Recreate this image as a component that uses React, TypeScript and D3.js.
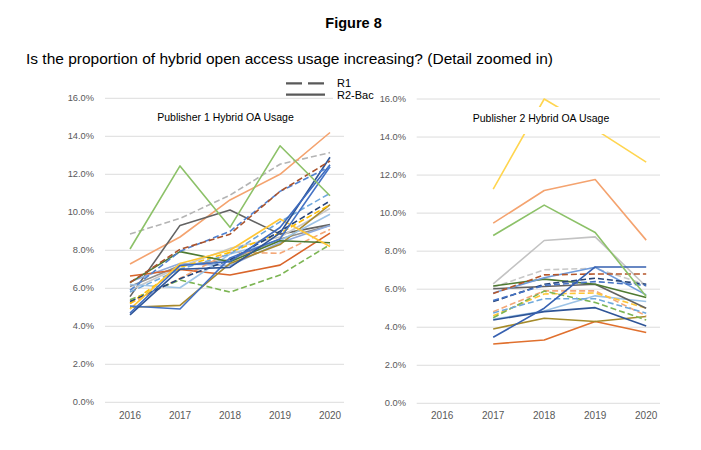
import React from "react";
import * as d3 from "d3";

// ---------- data ----------
const years = ["2016", "2017", "2018", "2019", "2020"];
const yTicks = [0, 2, 4, 6, 8, 10, 12, 14, 16];

// Publisher 1 (values in %)
const p1GreenLight = [8.07, 12.44, 9.21, 13.5, 10.87];
const p1GrayDash = [8.86, 9.68, 10.9, 12.53, 13.14];
const p1OrangeLight = [7.28, 8.7, 10.65, 12.0, 14.2];
const p1DarkGray = [5.56, 9.31, 10.12, 8.85, 9.35];
const p1BrownDash = [6.3, 8.05, 8.85, 11.1, 12.7];
const p1BlueDash = [5.9, 7.95, 9.0, 11.1, 12.4];
const p1DarkGreen = [6.3, 7.93, 7.4, 8.5, 8.4];
const p1Gold = [4.9, 7.3, 8.0, 9.65, 8.2];
const p1Orange = [6.65, 6.99, 6.7, 7.22, 8.9];
const p1GreenDash = [5.4, 6.44, 5.8, 6.7, 8.3];
const p1OrangeDash = [5.2, 6.52, 7.9, 7.84, 9.1];
const p1DarkGold = [5.0, 5.1, 7.31, 8.3, 10.4];
const p1LightBlue = [6.2, 6.03, 7.8, 8.5, 9.9];
const p1Blue = [5.07, 4.91, 7.6, 8.6, 12.4];
const p1DarkBlue = [4.6, 7.0, 7.1, 8.9, 12.9];
const p1Blue2 = [4.7, 7.2, 7.4, 9.2, 12.5];
const p1DarkBlueDash = [5.3, 6.5, 7.5, 9.0, 10.6];
const p1LightBlueDash = [5.8, 7.0, 7.8, 9.5, 11.0];
const p1LightGray = [5.9, 7.13, 8.1, 8.7, 10.2];
const p1GoldDash = [5.2, 7.1, 7.9, 8.9, 10.4];
const p1Gray = [6.1, 7.2, 7.5, 8.6, 9.3];
const p1LightBlue2 = [6.35, 7.3, 7.2, 8.4, 9.3];

const p1Series = [
  p1GrayDash, p1OrangeLight, p1DarkGray, p1LightGray, p1Gray, p1LightBlue2,
  p1OrangeDash, p1GreenDash, p1Orange, p1DarkGold, p1LightBlue, p1GoldDash,
  p1DarkBlueDash, p1LightBlueDash, p1DarkGreen, p1Gold, p1Blue, p1DarkBlue,
  p1Blue2, p1BlueDash, p1BrownDash, p1GreenLight,
];
const p1Colors = [
  "#B4B4B4", "#F4A36F", "#636363", "#C8C8C8", "#8E8E8E", "#8FAADC",
  "#F4A878", "#7CB553", "#D9652A", "#A8892C", "#9DC3E6", "#FFC000",
  "#264478", "#6FA8DC", "#4E7A32", "#FFC636", "#4472C4", "#2F5597",
  "#3D6BBE", "#4F81D0", "#A9522B", "#8CC168",
];
const p1Dashed = [
  true, false, false, false, false, false,
  true, true, false, false, false, true,
  true, true, false, false, false, false,
  false, true, true, false,
];

// Publisher 2 (no 2016 data)
const p2Yellow = [null, 11.26, 16.0, 14.4, 12.68];
const p2OrangeLight = [null, 9.47, 11.19, 11.77, 8.58];
const p2GreenLight = [null, 8.82, 10.42, 8.98, 5.61];
const p2LightGray = [null, 6.28, 8.56, 8.75, 6.14];
const p2Blue = [null, 3.47, 5.0, 7.17, 7.17];
const p2Orange = [null, 3.12, 3.33, 4.3, 3.72];
const p2DarkGold = [null, 3.91, 4.47, 4.3, 4.56];
const p2DarkBlue = [null, 4.38, 4.82, 5.03, 4.07];
const p2LightBlue = [null, 4.42, 4.85, 5.65, 5.35];
const p2DarkGreen = [null, 6.17, 6.53, 6.26, 5.56];
const p2DarkGray = [null, 6.02, 6.14, 6.26, 5.0];
const p2Blue2 = [null, 5.8, 6.6, 7.15, 5.7];
const p2GrayDash = [null, 6.1, 7.02, 7.1, 6.24];
const p2BrownDash = [null, 5.77, 6.75, 6.8, 6.8];
const p2DarkBlueDash = [null, 5.35, 6.26, 6.58, 6.26];
const p2BlueDash = [null, 5.4, 6.2, 6.4, 6.2];
const p2OrangeDash = [null, 4.82, 5.91, 5.91, 4.6];
const p2GoldDash = [null, 4.6, 5.75, 5.8, 5.0];
const p2GreenDash = [null, 4.5, 5.9, 5.3, 4.38];
const p2LightBlueDash = [null, 4.75, 5.5, 5.5, 4.74];

const p2Series = [
  p2GrayDash, p2LightGray, p2Orange, p2DarkGold, p2LightBlue, p2DarkBlue,
  p2OrangeDash, p2GoldDash, p2GreenDash, p2LightBlueDash, p2DarkGray,
  p2DarkGreen, p2Blue2, p2BrownDash, p2DarkBlueDash, p2BlueDash, p2Blue,
  p2GreenLight, p2OrangeLight, p2Yellow,
];
const p2Colors = [
  "#C8C8C8", "#C3C3C3", "#E0702E", "#A58B2A", "#9DC3E6", "#2F5597",
  "#F4A878", "#FFC636", "#7CB553", "#6FA8DC", "#636363",
  "#4E7A32", "#6F9BDB", "#B5562A", "#264478", "#4472C4", "#3660B0",
  "#8CC168", "#F4A36F", "#FFD54F",
];
const p2Dashed = [
  true, false, false, false, false, false,
  true, true, true, true, false,
  false, false, true, true, true, false,
  false, false, false,
];

// ---------- chart ----------
type Panel = {
  title: string;
  series: (number | null)[][];
  colors: string[];
  dashed: boolean[];
  x0: number;
  x1: number;
  gridEnd: number;
  yBottom: number;
  yTop: number;
  labelX: number;
  titleX: number;
  titleY: number;
  titleBox: boolean;
};

const font = "'Liberation Sans', Arial, sans-serif";

function PanelChart({ p }: { p: Panel }) {
  const x = d3.scaleBand<string>().domain(years).range([p.x0, p.x1]);
  const y = d3.scaleLinear().domain([0, 16]).range([p.yBottom, p.yTop]);
  const line = d3
    .line<number | null>()
    .defined((d) => d != null)
    .x((_, i) => (x(years[i]) as number) + x.bandwidth() / 2)
    .y((d) => y(d as number));
  return (
    <g>
      {yTicks.map((t) => (
        <g key={t}>
          <line x1={p.x0} x2={p.gridEnd} y1={y(t)} y2={y(t)} stroke="#DCDCDC" strokeWidth={1} />
          <text x={p.labelX} y={y(t)} dy="0.33em" textAnchor="end" fontSize={9.3} fill="#595959" fontFamily={font}>
            {t.toFixed(1) + "%"}
          </text>
        </g>
      ))}
      {years.map((yr) => (
        <text key={yr} x={(x(yr) as number) + x.bandwidth() / 2} y={419} textAnchor="middle" fontSize={10} fill="#595959" fontFamily={font}>
          {yr}
        </text>
      ))}
      {p.series.map((s, i) => (
        <path
          key={i}
          d={line(s) || ""}
          fill="none"
          stroke={p.colors[i]}
          strokeWidth={1.6}
          strokeDasharray={p.dashed[i] ? "6,3" : undefined}
          strokeLinejoin="round"
        />
      ))}
      {p.titleBox && <rect x={p.titleX - 73} y={p.titleY - 15} width={146} height={27} fill="#fff" />}
      <text x={p.titleX} y={p.titleY} textAnchor="middle" fontSize={10.5} fill="#000" fontFamily={font}>
        {p.title}
      </text>
    </g>
  );
}

const panel1: Panel = {
  title: "Publisher 1 Hybrid OA Usage",
  series: p1Series,
  colors: p1Colors,
  dashed: p1Dashed,
  x0: 105,
  x1: 355,
  gridEnd: 344,
  yBottom: 402.3,
  yTop: 98.3,
  labelX: 94,
  titleX: 225.5,
  titleY: 121,
  titleBox: false,
};

const panel2: Panel = {
  title: "Publisher 2 Hybrid OA Usage",
  series: p2Series,
  colors: p2Colors,
  dashed: p2Dashed,
  x0: 416.7,
  x1: 671.7,
  gridEnd: 660,
  yBottom: 403.3,
  yTop: 99,
  labelX: 406,
  titleX: 541,
  titleY: 122,
  titleBox: true,
};

export default function App() {
  return (
    <svg width={701} height={450} style={{ position: "absolute", left: 0, top: 0, background: "#fff" }}>
      <rect x={0} y={0} width={701} height={450} fill="#fff" />
      <text x={353.5} y={28} textAnchor="middle" fontSize={14.5} fontWeight="bold" fontFamily={font} fill="#000">
        Figure 8
      </text>
      <text x={26} y={64} fontSize={14} fontFamily={font} fill="#000" textLength={527} lengthAdjust="spacingAndGlyphs">
        Is the proportion of hybrid open access usage increasing? (Detail zoomed in)
      </text>
      <PanelChart p={panel1} />
      <PanelChart p={panel2} />
      {/* legend */}
      <rect x={333} y={88} width={40} height={13} fill="#fff" />
      <line x1={286} x2={325} y1={83.3} y2={83.3} stroke="#595959" strokeWidth={2.2} strokeDasharray="16,6" />
      <line x1={286} x2={325} y1={94.7} y2={94.7} stroke="#595959" strokeWidth={2.2} />
      <text x={337} y={86.5} fontSize={11} fontFamily={font} fill="#000">R1</text>
      <text x={337} y={98.5} fontSize={11} fontFamily={font} fill="#000">R2-Bac</text>
    </svg>
  );
}
